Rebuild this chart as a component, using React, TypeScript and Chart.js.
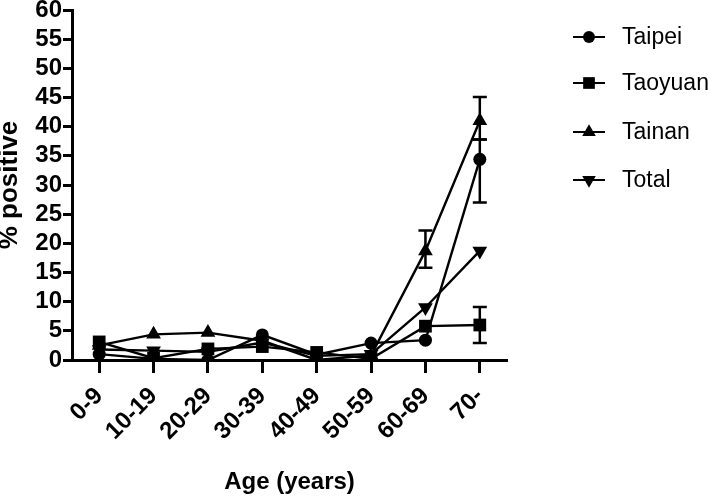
import React, { useEffect, useRef } from "react";
import { Chart, registerables } from "chart.js";

Chart.register(...registerables);

const categories = ["0-9", "10-19", "20-29", "30-39", "40-49", "50-59", "60-69", "70-"];
const seriesNames = ["Taipei", "Taoyuan", "Tainan", "Total"];
const taipei = [1.0, 0.2, 0.0, 4.3, 0.9, 2.9, 3.4, 34.4];
const taoyuan = [3.1, 0.3, 1.9, 2.3, 1.3, 0.2, 5.8, 6.0];
const tainan = [2.5, 4.4, 4.7, 3.3, 0.0, 0.8, 18.7, 41.0];
const total = [1.8, 1.6, 1.4, 3.0, 0.7, 1.0, 9.0, 18.7];

const taipeiLow = [null, null, null, null, null, null, null, 27.0];
const taipeiHigh = [null, null, null, null, null, null, null, 37.8];
const taoyuanLow = [null, null, null, null, null, null, null, 2.9];
const taoyuanHigh = [null, null, null, null, null, null, null, 9.1];
const tainanLow = [null, null, null, null, null, null, 15.8, 37.8];
const tainanHigh = [null, null, null, null, null, null, 22.2, 45.1];

const yTicksMax = 60;
const yTickStep = 5;

const FONT = "'Liberation Sans', Arial, sans-serif";

type Marker = { style: string; rotation: number; radius: number };
const markers: Marker[] = [
  { style: "circle", rotation: 0, radius: 6.5 },
  { style: "rect", rotation: 0, radius: 9 },
  { style: "triangle", rotation: 0, radius: 8.5 },
  { style: "triangle", rotation: 180, radius: 8.5 },
];

function drawMarker(ctx: CanvasRenderingContext2D, m: Marker, x: number, y: number, r: number) {
  ctx.beginPath();
  if (m.style === "circle") {
    ctx.arc(x, y, r, 0, Math.PI * 2);
  } else if (m.style === "rect") {
    const s = r * Math.SQRT1_2;
    ctx.rect(x - s, y - s, 2 * s, 2 * s);
  } else {
    const dir = m.rotation === 180 ? -1 : 1;
    const h = r;
    const w = r * Math.sqrt(3) / 2;
    ctx.moveTo(x, y - dir * h);
    ctx.lineTo(x - w, y + dir * h / 2);
    ctx.lineTo(x + w, y + dir * h / 2);
    ctx.closePath();
  }
  ctx.fill();
}

const errorBarPlugin = {
  id: "errorBars",
  beforeDatasetsDraw(chart: any) {
    const ctx = chart.ctx;
    const xs = chart.scales.x;
    const ys = chart.scales.y;
    const errs = [
      [taipeiLow, taipeiHigh],
      [taoyuanLow, taoyuanHigh],
      [tainanLow, tainanHigh],
    ];
    ctx.save();
    ctx.strokeStyle = "#000";
    ctx.lineWidth = 2.5;
    errs.forEach(([lo, hi]) => {
      lo.forEach((l, i) => {
        const h = hi[i];
        if (l == null || h == null) return;
        const x = xs.getPixelForValue(i);
        const y1 = ys.getPixelForValue(l);
        const y2 = ys.getPixelForValue(h);
        ctx.beginPath();
        ctx.moveTo(x, y1);
        ctx.lineTo(x, y2);
        ctx.moveTo(x - 7, y1);
        ctx.lineTo(x + 7, y1);
        ctx.moveTo(x - 7, y2);
        ctx.lineTo(x + 7, y2);
        ctx.stroke();
      });
    });
    ctx.restore();
  },
};

const legendPlugin = {
  id: "customLegend",
  afterDraw(chart: any) {
    const ctx = chart.ctx;
    const area = chart.chartArea;
    const x0 = area.right + 66;
    const offsets = [27, 73, 122, 170];
    ctx.save();
    ctx.fillStyle = "#000";
    ctx.strokeStyle = "#000";
    ctx.lineWidth = 2;
    ctx.font = `23px ${FONT}`;
    ctx.textBaseline = "middle";
    ctx.textAlign = "left";
    seriesNames.forEach((name, i) => {
      const y = area.top + offsets[i];
      ctx.beginPath();
      ctx.moveTo(x0, y);
      ctx.lineTo(x0 + 32, y);
      ctx.stroke();
      drawMarker(ctx, markers[i], x0 + 16, y, markers[i].radius * 0.92);
      ctx.fillText(name, x0 + 49, y + 1);
    });
    ctx.restore();
  },
};

export default function App() {
  const ref = useRef<HTMLCanvasElement | null>(null);
  useEffect(() => {
    if (!ref.current) return;
    const series = [taipei, taoyuan, tainan, total];
    const chart = new Chart(ref.current, {
      type: "line",
      data: {
        labels: categories,
        datasets: series.map((d, i) => ({
          label: seriesNames[i],
          data: d,
          borderColor: "#000",
          backgroundColor: "#000",
          borderWidth: 2.4,
          pointStyle: markers[i].style as any,
          pointRotation: markers[i].rotation,
          pointRadius: markers[i].radius,
          pointBorderWidth: 0,
          pointBackgroundColor: "#000",
          tension: 0,
          fill: false,
        })),
      },
      options: {
        animation: false,
        responsive: true,
        maintainAspectRatio: false,
        layout: { padding: { top: 10, right: 202, bottom: 0, left: 0 } },
        plugins: { legend: { display: false }, tooltip: { enabled: false } },
        scales: {
          x: {
            type: "category",
            offset: true,
            grid: {
              offset: false,
              drawOnChartArea: false,
              drawTicks: true,
              tickLength: 13,
              tickWidth: 3,
              tickColor: "#000",
              color: "#000",
            },
            border: { display: true, width: 3, color: "#000" },
            ticks: {
              maxRotation: 45,
              minRotation: 45,
              autoSkip: false,
              color: "#000",
              padding: 9,
              font: { family: FONT, size: 24, weight: "bold" },
            },
            title: {
              display: true,
              text: "Age (years)",
              color: "#000",
              padding: 0,
              font: { family: FONT, size: 24, weight: "bold" },
            },
            afterFit: (s: any) => {
              s.height = 137;
              s.paddingLeft = 0;
              s.paddingRight = 0;
            },
          },
          y: {
            min: 0,
            max: yTicksMax,
            grid: {
              drawOnChartArea: false,
              drawTicks: true,
              tickLength: 9,
              tickWidth: 3,
              tickColor: "#000",
              color: "#000",
            },
            border: { display: true, width: 3, color: "#000" },
            ticks: {
              stepSize: yTickStep,
              autoSkip: false,
              color: "#000",
              padding: 1,
              font: { family: FONT, size: 24, weight: "bold" },
            },
            title: {
              display: true,
              text: "% positive",
              color: "#000",
              padding: 0,
              font: { family: FONT, size: 26, weight: "bold", lineHeight: 0.77 },
            },
            afterFit: (s: any) => {
              s.width = 72;
              s.paddingTop = 0;
              s.paddingBottom = 0;
            },
          },
        },
      },
      plugins: [errorBarPlugin, legendPlugin],
    });
    return () => chart.destroy();
  }, []);
  return (
    <div style={{ position: "absolute", left: 0, top: 0, width: 709, height: 497, background: "#fff" }}>
      <canvas ref={ref} />
    </div>
  );
}
